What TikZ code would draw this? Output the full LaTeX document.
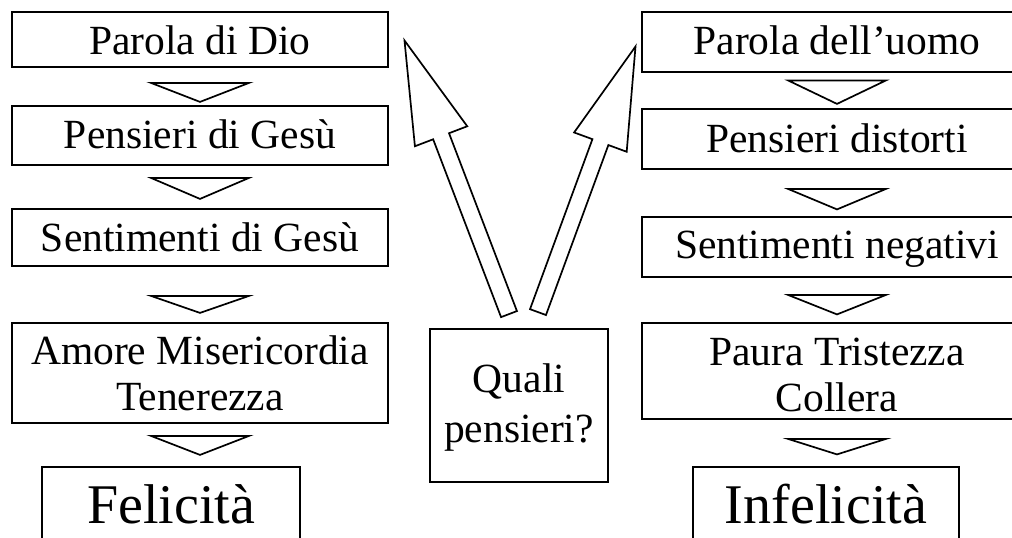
\documentclass[tikz,border=0pt]{standalone}
\usepackage{fontspec}
\setmainfont{Liberation Serif}
\usetikzlibrary{calc}

\tikzset{
	stepbox/.style={draw, line width=1.8pt, minimum width=376pt, inner sep=0pt, align=center, font=\fontsize{41.5}{46}\selectfont},
	endbox/.style={draw, line width=1.8pt, inner sep=0pt, text height=36pt, text depth=0pt, font=\fontsize{56}{60}\selectfont},
	askbox/.style={draw, line width=1.8pt, minimum width=178pt, minimum height=153pt, inner sep=0pt, align=center, font=\fontsize{41.5}{46}\selectfont},
	flowtri/.style={draw, line width=1.7pt},
	bigarrow/.style={draw, line width=1.7pt},
}

\newcommand{\downtri}[3]{
	\pgfmathsetmacro{\DTgap}{#2}
	\pgfmathsetmacro{\DTtip}{#2+#3}
	\draw[flowtri] ($(#1.south)+(-49,\DTgap)$) -- ($(#1.south)+(49,\DTgap)$) -- ($(#1.south)+(0,\DTtip)$) -- cycle;
}

\newcommand{\hollowarrow}[3]{
	\coordinate (#1base) at ($(#1)!#3!(#2)$);
	\draw[bigarrow] ($(#1)!8.5pt!90:(#2)$) -- ($(#1base)!8.5pt!90:(#2)$) -- ($(#1base)!28pt!90:(#2)$) -- (#2)
		-- ($(#1base)!28pt!-90:(#2)$) -- ($(#1base)!8.5pt!-90:(#2)$) -- ($(#1)!8.5pt!-90:(#2)$) -- cycle;
}

\begin{document}
\begin{tikzpicture}[x=1pt, y=-1pt]
\useasboundingbox (0,0) rectangle (1012,538);
\clip (0,0) rectangle (1012,538);

\node[stepbox, minimum height=55pt, text height=29pt, text depth=0pt] (dio) at (200,39.5) {Parola di Dio};
\node[stepbox, minimum height=59pt, text height=26pt, text depth=0pt] (gesu) at (200,135.5) {Pensieri di Gesù};
\node[stepbox, minimum height=57pt, text height=27pt, text depth=0pt] (sentgesu) at (200,237.5) {Sentimenti di Gesù};
\node[stepbox, minimum height=100pt] (amore) at (200,373) {\rule{0pt}{30pt}Amore Misericordia\\Tenerezza};
\node[endbox, minimum width=258pt, minimum height=76pt] (felicita) at (171,505) {Felicità};

\node[stepbox, minimum width=390pt, minimum height=60pt, text height=25pt, text depth=0pt] (uomo) at (837,42) {Parola dell'uomo};
\node[stepbox, minimum width=390pt, minimum height=60pt, text height=26pt, text depth=0pt] (distorti) at (837,139) {Pensieri distorti};
\node[stepbox, minimum width=390pt, minimum height=60pt, text height=22pt, text depth=0pt] (negativi) at (837,247) {Sentimenti negativi};
\node[stepbox, minimum width=390pt, minimum height=96pt] (paura) at (837,371) {\rule{0pt}{35pt}Paura Tristezza\\Collera};
\node[endbox, minimum width=266pt, minimum height=76pt] (infelicita) at (826,505) {Infelicità};

\node[askbox] (quali) at (519,405.5) {\rule{0pt}{33pt}Quali\\[4pt]pensieri?};

\downtri{dio}{15}{19}
\downtri{gesu}{12}{21}
\downtri{sentgesu}{29}{17}
\downtri{amore}{12}{19}

\downtri{uomo}{7.5}{23.5}
\downtri{distorti}{19}{20.5}
\downtri{negativi}{17}{19.5}
\downtri{paura}{19}{15.5}

\coordinate (tailL) at ($(quali.north)+(-10,-14)$);
\coordinate (tailR) at ($(quali.north)+(19,-16)$);
\coordinate (tipL) at (404.5,40.5);
\coordinate (tipR) at (635.5,46.5);
\hollowarrow{tailL}{tipL}{0.65}
\hollowarrow{tailR}{tipR}{0.64}
\end{tikzpicture}
\end{document}
